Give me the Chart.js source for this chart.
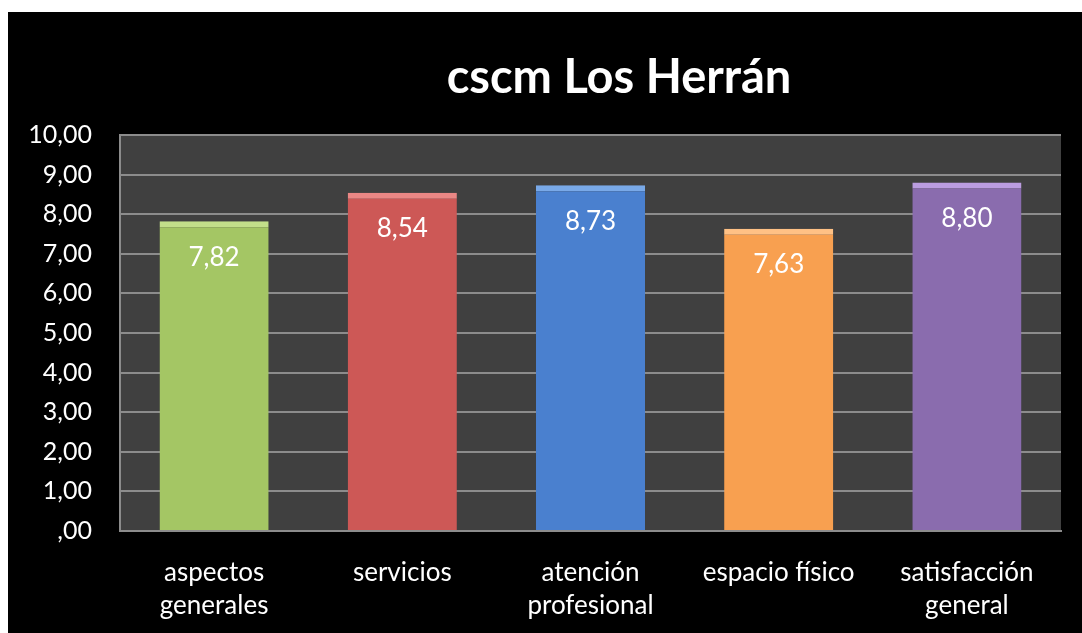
<!DOCTYPE html>
<html lang="es">
<head>
<meta charset="UTF-8" />
<title>cscm Los Herrán</title>
<script src="https://cdn.jsdelivr.net/npm/chart.js"></script>
<style>
    html, body {
        margin: 0;
        width: 1082px;
        height: 633px;
        background: #ffffff;
        overflow: hidden;
    }
    .frame {
        position: absolute;
        left: 8px;
        top: 12px;
        width: 1074px;
        height: 621px;
        background: #000000;
    }
</style>
</head>
<body>
<div class="frame">
    <canvas id="chart" width="1074" height="621"></canvas>
</div>
<script>
    const chartTitle = "cscm Los Herrán";
    const categories = [
        ["aspectos", "generales"],
        "servicios",
        ["atención", "profesional"],
        "espacio físico",
        ["satisfacción", "general"],
    ];
    const scores = [7.82, 8.54, 8.73, 7.63, 8.8];
    const barColors = ["#a4c664", "#cd5856", "#4a80cf", "#f8a050", "#8a6cae"];
    const barTops = ["#c2df8a", "#ea8785", "#79a9e8", "#ffc185", "#bb9de0"];

    const fmt = (v) => {
        let s = v.toFixed(2).replace(".", ",");
        return s.startsWith("0,") ? s.slice(1) : s;
    };

    // darken a #rrggbb colour a bit (bar side shading)
    const shade = (hex, f) => {
        const n = parseInt(hex.slice(1), 16);
        const r = Math.round(((n >> 16) & 255) * f);
        const g = Math.round(((n >> 8) & 255) * f);
        const b = Math.round((n & 255) * f);
        return `rgb(${r},${g},${b})`;
    };

    const FONT = "Lato, 'Open Sans', sans-serif";

    // dark plot background + title
    const decor = {
        id: "decor",
        beforeDraw(chart) {
            const { ctx, chartArea: a } = chart;
            ctx.save();
            ctx.fillStyle = "#404040";
            ctx.fillRect(a.left, a.top, a.right - a.left, a.bottom - a.top);
            ctx.restore();
        },
        afterDraw(chart) {
            const ctx = chart.ctx;
            ctx.save();
            ctx.fillStyle = "#ffffff";
            ctx.font = "bold 47px " + FONT;
            ctx.textAlign = "center";
            ctx.textBaseline = "middle";
            ctx.fillText(chartTitle, 611, 66);
            ctx.restore();
        },
    };

    // values written inside the top of each bar
    const valueLabels = {
        id: "valueLabels",
        afterDatasetsDraw(chart) {
            const ctx = chart.ctx;
            const meta = chart.getDatasetMeta(0);
            ctx.save();
            ctx.fillStyle = "#ffffff";
            ctx.font = "26px " + FONT;
            ctx.textAlign = "center";
            ctx.textBaseline = "middle";
            meta.data.forEach((bar, i) => {
                ctx.fillText(fmt(scores[i]), bar.x, bar.y + 36);
            });
            ctx.restore();
        },
    };

    new Chart(document.getElementById("chart"), {
        type: "bar",
        data: {
            labels: categories,
            datasets: [
                {
                    data: scores,
                    backgroundColor: (c) => {
                        const bar = c.element;
                        const base = barColors[c.dataIndex];
                        if (!bar || !bar.width) return base;
                        const x0 = bar.x - bar.width / 2;
                        const g = c.chart.ctx.createLinearGradient(x0, 0, x0 + bar.width, 0);
                        g.addColorStop(0, shade(base, 0.8));
                        g.addColorStop(0.07, base);
                        g.addColorStop(0.93, base);
                        g.addColorStop(1, shade(base, 0.8));
                        return g;
                    },
                    borderColor: barTops,
                    borderWidth: { top: 6, left: 0, right: 0, bottom: 0 },
                    borderSkipped: "bottom",
                    barPercentage: 0.58,
                    categoryPercentage: 1,
                },
            ],
        },
        options: {
            responsive: false,
            animation: false,
            layout: { padding: { left: 0, right: 21, top: 123, bottom: 0 } },
            plugins: {
                legend: { display: false },
                tooltip: { enabled: false },
            },
            scales: {
                x: {
                    grid: { display: false, drawTicks: false },
                    border: { color: "#8c8c8c", width: 2 },
                    ticks: {
                        color: "#ffffff",
                        padding: 25,
                        maxRotation: 0,
                        autoSkip: false,
                        font: { family: FONT, size: 26, lineHeight: 1.27 },
                    },
                    afterFit(s) {
                        s.height = 102;
                    },
                },
                y: {
                    min: 0,
                    max: 10,
                    grid: { color: "#8c8c8c", lineWidth: 2, drawTicks: false },
                    border: { color: "#8c8c8c", width: 2 },
                    ticks: {
                        stepSize: 1,
                        color: "#ffffff",
                        padding: 28,
                        font: { family: FONT, size: 25 },
                        callback: (v) => fmt(v),
                    },
                    afterFit(s) {
                        s.width = 112;
                    },
                },
            },
        },
        plugins: [decor, valueLabels],
    });
</script>
</body>
</html>
